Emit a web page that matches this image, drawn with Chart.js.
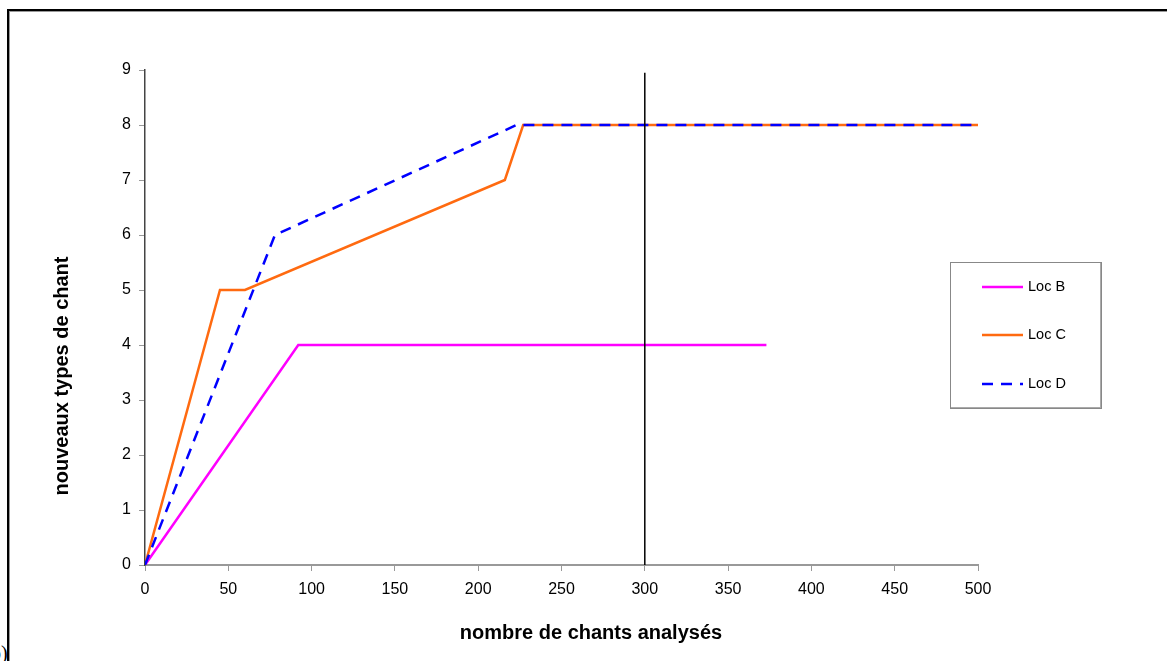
<!DOCTYPE html>
<html lang="fr">
<head>
  <meta charset="UTF-8">
  <title>Nouveaux types de chant</title>
  <script src="https://cdn.jsdelivr.net/npm/chart.js"></script>
  <style>
    html,body{margin:0;padding:0;background:#fff}
    #wrap{position:relative;width:1167px;height:661px;overflow:hidden}
    #frame{position:absolute;left:7px;top:9px;right:-10px;bottom:-10px;
      border-top:2px solid #000;border-left:2px solid #000;
      box-shadow:inset 1px 1px 0 #999}
    #tag{position:absolute;left:-9px;top:642px;font:20px "Liberation Serif",serif;color:#000}
    canvas{position:absolute;left:0;top:0}
  </style>
</head>
<body>
<div id="wrap">
  <div id="frame"></div>
  <div id="tag">b)</div>
  <canvas id="chart" width="1167" height="661"></canvas>
</div>
<script>
// ---- données ----
const locBx = [0, 92, 373];
const locBy = [0, 4, 4];
const locCx = [0, 45, 60, 216, 227, 500];
const locCy = [0, 5, 5, 7, 8, 8];
const locDx = [0, 78, 223, 500];
const locDy = [0, 6, 8, 8];
const seuilX = [300, 300];
const seuilY = [0, 8.95];

const xTitle = 'nombre de chants analysés';
const yTitle = 'nouveaux types de chant';

const pts = (xs, ys) => xs.map((x, i) => ({x, y: ys[i]}));

const FAM = '"Liberation Sans", Arial, sans-serif';

// titres des axes (décalés comme dans l'original) + légende en boîte
const decor = {
  id: 'decor',
  afterDraw(chart){
    const ctx = chart.ctx;
    ctx.save();
    ctx.fillStyle = '#000';
    ctx.font = 'bold 20px ' + FAM;
    ctx.textAlign = 'center';
    ctx.textBaseline = 'middle';
    ctx.fillText(xTitle, 591, 633);
    ctx.translate(62, 376);
    ctx.rotate(-Math.PI / 2);
    ctx.fillText(yTitle, 0, 0);
    ctx.restore();

    const L = 950, T = 262, W = 151, H = 146;
    ctx.save();
    ctx.fillStyle = '#fff';
    ctx.fillRect(L, T, W, H);
    ctx.strokeStyle = '#aaa';
    ctx.lineWidth = 2;
    ctx.beginPath();
    ctx.moveTo(L + W, T); ctx.lineTo(L + W, T + H); ctx.lineTo(L, T + H);
    ctx.stroke();
    ctx.strokeStyle = '#888';
    ctx.lineWidth = 1;
    ctx.strokeRect(L + 0.5, T + 0.5, W, H);
    const rows = [287, 335, 384];
    chart.data.datasets.forEach((ds, i) => {
      if(ds.noLegend) return;
      const y = rows[i];
      ctx.strokeStyle = ds.borderColor;
      ctx.lineWidth = ds.borderWidth;
      ctx.setLineDash(ds.borderDash || []);
      ctx.beginPath();
      ctx.moveTo(982, y); ctx.lineTo(1023, y);
      ctx.stroke();
      ctx.setLineDash([]);
      ctx.fillStyle = '#000';
      ctx.font = '14.5px ' + FAM;
      ctx.textBaseline = 'middle';
      ctx.fillText(ds.label, 1028, y);
    });
    ctx.restore();
  }
};

const font = {family: FAM, size: 16};

new Chart(document.getElementById('chart'), {
  type: 'scatter',
  data: {
    datasets: [
      {label: 'Loc B', data: pts(locBx, locBy), borderColor: '#ff00ff', borderWidth: 2.5, showLine: true, pointRadius: 0, order: 3},
      {label: 'Loc C', data: pts(locCx, locCy), borderColor: '#ff6a10', borderWidth: 2.5, showLine: true, pointRadius: 0, order: 2},
      {label: 'Loc D', data: pts(locDx, locDy), borderColor: '#0000ff', borderWidth: 2.5, borderDash: [11, 8], showLine: true, pointRadius: 0, order: 1},
      {label: 'seuil', data: pts(seuilX, seuilY), borderColor: '#000', borderWidth: 1.5, showLine: true, pointRadius: 0, order: 0, noLegend: true}
    ]
  },
  options: {
    responsive: false,
    animation: false,
    layout: {padding: {left: 0, right: 189, top: 70, bottom: 0}},
    plugins: {legend: {display: false}, tooltip: {enabled: false}},
    scales: {
      x: {
        type: 'linear', min: 0, max: 500,
        ticks: {stepSize: 50, color: '#000', font, padding: 9},
        grid: {drawOnChartArea: false, drawTicks: true, tickLength: 6, color: '#999'},
        border: {color: '#999', width: 2},
        afterFit(s){ s.height = 96; }
      },
      y: {
        min: 0, max: 9,
        ticks: {stepSize: 1, color: '#000', font, padding: 8},
        grid: {drawOnChartArea: false, drawTicks: true, tickLength: 6, color: '#999'},
        border: {color: '#444', width: 1.5},
        afterFit(s){ s.width = 145; }
      }
    }
  },
  plugins: [decor]
});
</script>
</body>
</html>
